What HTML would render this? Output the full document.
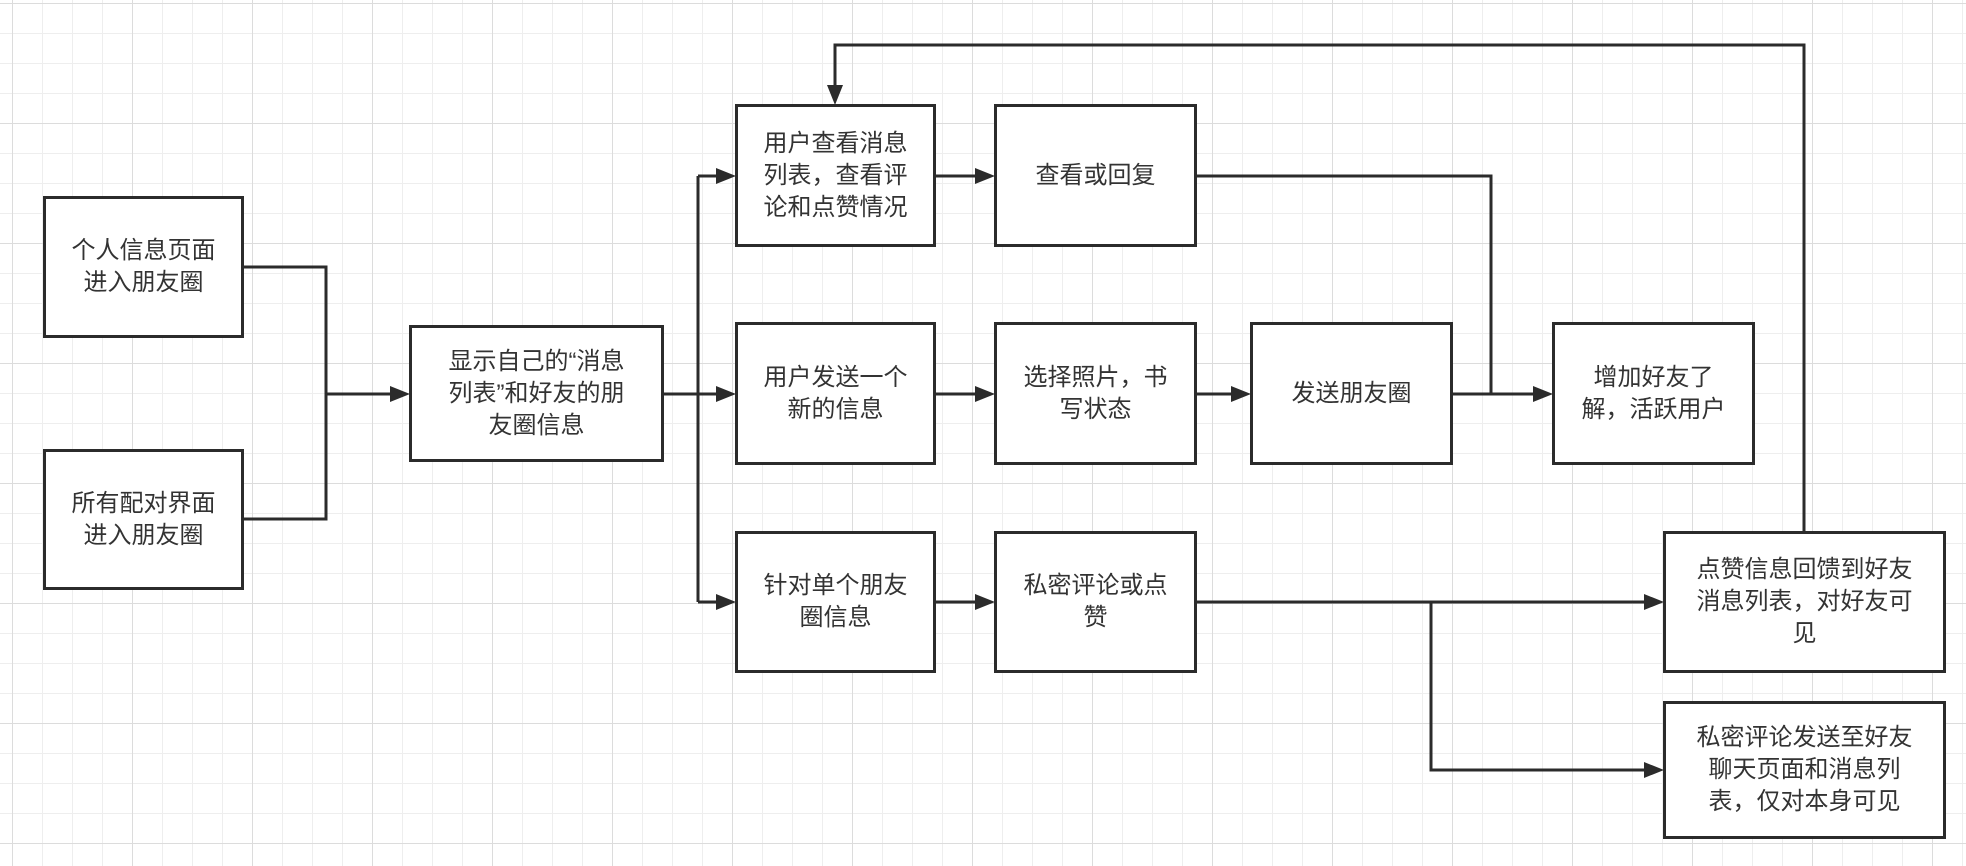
<!DOCTYPE html>
<html><head><meta charset="utf-8"><style>
html,body{margin:0;padding:0;}
body{width:1966px;height:866px;position:relative;overflow:hidden;background:#fff;
background-image:
linear-gradient(to right,#dcdcdc 1px,transparent 1px),
linear-gradient(to bottom,#dcdcdc 1px,transparent 1px),
linear-gradient(to right,#eeeeee 1px,transparent 1px),
linear-gradient(to bottom,#eeeeee 1px,transparent 1px);
background-size:120px 120px,120px 120px,30px 30px,30px 30px;
background-position:12px 3px,12px 3px,12px 3px,12px 3px;}
.b{position:absolute;box-sizing:border-box;border:3px solid #2b2b2b;background:#fff;display:flex;align-items:center;justify-content:center;text-align:center;font-family:"Liberation Sans","Noto Sans CJK SC",sans-serif;font-size:24px;line-height:32px;color:#333;}
svg{position:absolute;left:0;top:0;}
</style></head><body>
<svg width="1966" height="866">
<g stroke="#2b2b2b" stroke-width="3" fill="none">
<polyline points="243,267 326,267 326,519 243,519"/>
<line x1="326" y1="394" x2="392" y2="394"/>
<line x1="663" y1="394" x2="698" y2="394"/>
<line x1="698" y1="176" x2="698" y2="602"/>
<line x1="698" y1="176" x2="718" y2="176"/>
<line x1="698" y1="394" x2="718" y2="394"/>
<line x1="698" y1="602" x2="718" y2="602"/>
<line x1="935" y1="176" x2="977" y2="176"/>
<line x1="935" y1="394" x2="977" y2="394"/>
<line x1="935" y1="602" x2="977" y2="602"/>
<line x1="1196" y1="394" x2="1233" y2="394"/>
<polyline points="1196,176 1491,176 1491,394"/>
<line x1="1452" y1="394" x2="1535" y2="394"/>
<line x1="1196" y1="602" x2="1646" y2="602"/>
<polyline points="1431,602 1431,770 1646,770"/>
<polyline points="1804,532 1804,45 835,45 835,87"/>
</g>
<g fill="#2b2b2b">
<polygon points="410,394 390,386 390,402"/>
<polygon points="736,176 716,168 716,184"/>
<polygon points="736,394 716,386 716,402"/>
<polygon points="736,602 716,594 716,610"/>
<polygon points="995,176 975,168 975,184"/>
<polygon points="995,394 975,386 975,402"/>
<polygon points="995,602 975,594 975,610"/>
<polygon points="1251,394 1231,386 1231,402"/>
<polygon points="1553,394 1533,386 1533,402"/>
<polygon points="1664,602 1644,594 1644,610"/>
<polygon points="1664,770 1644,762 1644,778"/>
<polygon points="835,105 827,85 843,85"/>
</g>
</svg>
<div class="b" style="left:43px;top:196px;width:201px;height:142px">个人信息页面<br>进入朋友圈</div>
<div class="b" style="left:43px;top:449px;width:201px;height:141px">所有配对界面<br>进入朋友圈</div>
<div class="b" style="left:409px;top:325px;width:255px;height:137px">显示自己的“消息<br>列表”和好友的朋<br>友圈信息</div>
<div class="b" style="left:735px;top:104px;width:201px;height:143px">用户查看消息<br>列表，查看评<br>论和点赞情况</div>
<div class="b" style="left:994px;top:104px;width:203px;height:143px">查看或回复</div>
<div class="b" style="left:735px;top:322px;width:201px;height:143px">用户发送一个<br>新的信息</div>
<div class="b" style="left:994px;top:322px;width:203px;height:143px">选择照片，书<br>写状态</div>
<div class="b" style="left:1250px;top:322px;width:203px;height:143px">发送朋友圈</div>
<div class="b" style="left:1552px;top:322px;width:203px;height:143px">增加好友了<br>解，活跃用户</div>
<div class="b" style="left:735px;top:531px;width:201px;height:142px">针对单个朋友<br>圈信息</div>
<div class="b" style="left:994px;top:531px;width:203px;height:142px">私密评论或点<br>赞</div>
<div class="b" style="left:1663px;top:531px;width:283px;height:142px">点赞信息回馈到好友<br>消息列表，对好友可<br>见</div>
<div class="b" style="left:1663px;top:701px;width:283px;height:138px">私密评论发送至好友<br>聊天页面和消息列<br>表，仅对本身可见</div>
</body></html>
